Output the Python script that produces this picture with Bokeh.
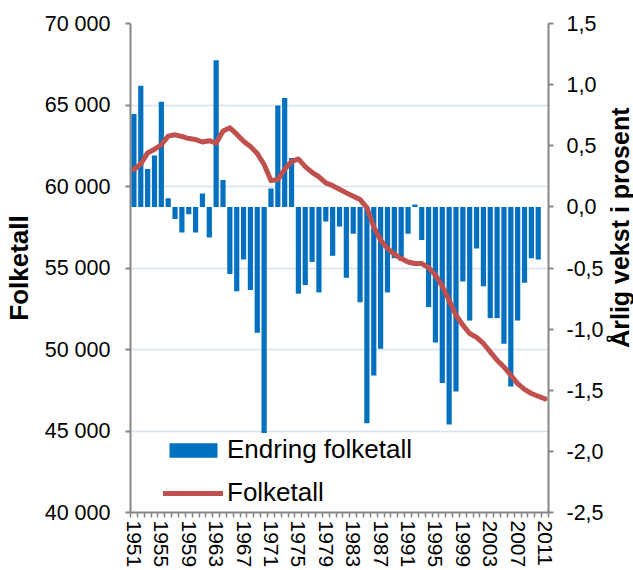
import math
from bokeh.plotting import figure
from bokeh.layouts import row
from bokeh.models import (Range1d, LinearAxis, FixedTicker, CustomJSTickFormatter,
                          Legend, LegendItem)
from bokeh.core.properties import value
from bokeh.embed import file_html
from bokeh.resources import INLINE

# ---------------- data ----------------
years = list(range(1951, 2012))
folketall = [
    61040, 61380, 62060, 62280, 62560, 63090, 63170, 63070, 62940, 62880,
    62730, 62810, 62660, 63400, 63600, 63210, 62770, 62450, 62020, 61350,
    60360, 60430, 61050, 61530, 61690, 61220, 60870, 60590, 60220, 60050,
    59830, 59610, 59400, 59200, 58710, 57520, 56710, 56200, 55850, 55580,
    55370, 55280, 55270, 55030, 54560, 53880, 53020, 52100, 51490, 50980,
    50740, 50370, 49850, 49340, 48930, 48420, 47910, 47550, 47300, 47130,
    46970,
]
endring_years = list(range(1951, 2011))
endring_pct = [
    0.76, 0.99, 0.31, 0.42, 0.86, 0.07, -0.10, -0.21, -0.06, -0.21,
    0.11, -0.25, 1.20, 0.22, -0.55, -0.69, -0.43, -0.68, -1.03, -1.85,
    0.15, 0.83, 0.89, 0.40, -0.71, -0.64, -0.45, -0.70, -0.12, -0.40,
    -0.16, -0.58, -0.22, -0.78, -1.77, -1.38, -1.16, -0.70, -0.42, -0.44,
    -0.22, 0.02, -0.27, -0.82, -1.11, -1.44, -1.78, -1.51, -0.61, -0.93,
    -0.34, -0.65, -0.91, -0.91, -1.12, -1.47, -0.93, -0.62, -0.42, -0.43,
]
left_ticks = [40000, 45000, 50000, 55000, 60000, 65000, 70000]
right_ticks = [-2.5, -2.0, -1.5, -1.0, -0.5, 0.0, 0.5, 1.0, 1.5]
year_label_ticks = list(range(1951, 2012, 4))
year_bounds = [y - 0.5 for y in range(1951, 2013)]
right_title = "Årlig vekst i prosent"

FONT = "Liberation Sans"
AXIS_GRAY = "#868686"

p = figure(width=606, height=570, output_backend="svg", toolbar_location=None,
           x_range=Range1d(1950.5, 2011.5), y_range=Range1d(40000, 70000),
           min_border_left=130, min_border_right=57, min_border_top=23,
           min_border_bottom=58)
p.outline_line_color = None
p.background_fill_color = "white"
p.border_fill_color = "white"
p.extra_y_ranges = {"pct": Range1d(-2.5, 1.5)}

# grid
p.xgrid.visible = False
p.ygrid.grid_line_color = "#d8e2ef"
p.ygrid.grid_line_width = 1.5
p.ygrid.ticker = FixedTicker(ticks=left_ticks)

# left axis
ly = p.yaxis[0]
ly.ticker = FixedTicker(ticks=left_ticks)
ly.formatter = CustomJSTickFormatter(
    code="return Math.round(tick).toString().replace(/\\B(?=(\\d{3})+(?!\\d))/g, ' ');")
ly.axis_line_color = AXIS_GRAY
ly.axis_line_width = 2
ly.major_tick_line_color = AXIS_GRAY
ly.major_tick_line_width = 2
ly.major_tick_out = 5
ly.major_tick_in = 0
ly.minor_tick_line_color = None
ly.major_label_text_font = FONT
ly.major_label_text_font_size = "21.5px"
ly.major_label_text_color = "black"
ly.major_label_standoff = 15
ly.axis_label = "Folketall"
ly.axis_label_text_font = FONT
ly.axis_label_text_font_size = "26px"
ly.axis_label_text_font_style = "bold"
ly.axis_label_text_color = "black"
ly.axis_label_standoff = 8

# right axis
ry = LinearAxis(y_range_name="pct", ticker=FixedTicker(ticks=right_ticks),
                formatter=CustomJSTickFormatter(code="return tick.toFixed(1).replace('.', ',');"))
ry.axis_line_color = AXIS_GRAY
ry.axis_line_width = 2
ry.major_tick_line_color = AXIS_GRAY
ry.major_tick_line_width = 2
ry.major_tick_out = 5
ry.major_tick_in = 0
ry.minor_tick_line_color = None
ry.major_label_text_font = FONT
ry.major_label_text_font_size = "21.5px"
ry.major_label_text_color = "black"
ry.major_label_standoff = 13
p.add_layout(ry, "right")

# bottom axis
bx = p.xaxis[0]
bx.ticker = FixedTicker(ticks=year_label_ticks, minor_ticks=year_bounds)
bx.axis_line_color = AXIS_GRAY
bx.axis_line_width = 2
bx.major_tick_line_color = None
bx.major_tick_out = 0
bx.major_tick_in = 0
bx.minor_tick_line_color = AXIS_GRAY
bx.minor_tick_line_width = 1.5
bx.minor_tick_out = 5
bx.minor_tick_in = 0
bx.major_label_orientation = -math.pi / 2
bx.major_label_text_font = FONT
bx.major_label_text_font_size = "21px"
bx.major_label_text_color = "black"
bx.major_label_standoff = 3

# glyphs
bars = p.vbar(x=endring_years, top=endring_pct, bottom=0, width=0.76,
              y_range_name="pct", fill_color="#0070C0", line_color=None)
line = p.line(years, folketall, line_color="#C0504D", line_width=5,
              line_join="round", line_cap="round")

legend = Legend(items=[LegendItem(label="Endring folketall", renderers=[bars]),
                       LegendItem(label="Folketall", renderers=[line])],
                location=(33, 4), padding=0, margin=0, spacing=12,
                border_line_color=None, background_fill_alpha=0,
                glyph_width=60, glyph_height=18, label_standoff=4,
                label_text_font=FONT, label_text_font_size="26px",
                label_text_color="black")
p.add_layout(legend)

# narrow panel carrying the right-hand axis title (reads bottom to top)
p2 = figure(width=27, height=570, output_backend="svg", toolbar_location=None,
            x_range=Range1d(0, 27), y_range=Range1d(0, 570),
            x_axis_location=None, y_axis_location=None,
            min_border=0, min_border_left=0, min_border_right=0,
            min_border_top=0, min_border_bottom=0)
p2.outline_line_color = None
p2.grid.visible = False
p2.background_fill_color = "white"
p2.border_fill_color = "white"
p2.text(x=[13.5], y=[332], text=[right_title], angle=math.pi / 2,
        text_align="center", text_baseline="middle",
        text_font=value(FONT), text_font_size=value("25px"),
        text_font_style="bold", text_color="black")

layout = row(p, p2, spacing=0)
open("out.html", "w").write(file_html(layout, INLINE))
